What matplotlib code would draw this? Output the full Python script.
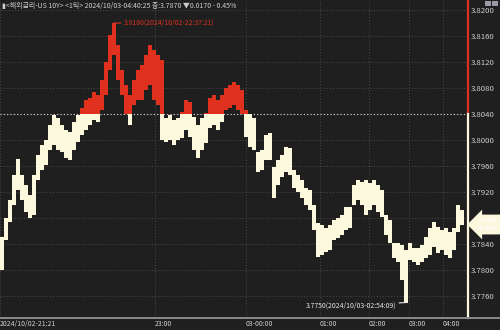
import matplotlib
matplotlib.use("Agg")
import matplotlib.pyplot as plt
from matplotlib.lines import Line2D
from matplotlib.patches import Rectangle
import numpy as np

# ---- data (per-bucket tick range, 1-tick chart of US 10Y yield) ----
highs = [3.7851, 3.7880, 3.7908, 3.7946, 3.7971, 3.7946, 3.7931, 3.7915, 3.7946, 3.7977,
         3.7992, 3.8000, 3.8023, 3.8038, 3.8034, 3.8023, 3.8015, 3.8012, 3.8028, 3.8038,
         3.8049, 3.8062, 3.8065, 3.8074, 3.8069, 3.8092, 3.8120, 3.8162, 3.8180, 3.8146,
         3.8108, 3.8085, 3.8069, 3.8092, 3.8108, 3.8115, 3.8131, 3.8146, 3.8138, 3.8131,
         3.8123, 3.8034, 3.8038, 3.8031, 3.8034, 3.8043, 3.8062, 3.8058, 3.8035, 3.8023,
         3.8034, 3.8042, 3.8065, 3.8069, 3.8062, 3.8069, 3.8080, 3.8085, 3.8089, 3.8085,
         3.8077, 3.8046, 3.8040, 3.8034, 3.7982, 3.7985, 3.8008, 3.8011, 3.7958, 3.7969,
         3.7977, 3.7989, 3.7988, 3.7954, 3.7946, 3.7938, 3.7926, 3.7923, 3.7900, 3.7872,
         3.7869, 3.7865, 3.7869, 3.7877, 3.7880, 3.7885, 3.7897, 3.7897, 3.7931, 3.7938,
         3.7935, 3.7938, 3.7934, 3.7938, 3.7931, 3.7923, 3.7885, 3.7877, 3.7842, 3.7842,
         3.7838, 3.7831, 3.7842, 3.7834, 3.7834, 3.7838, 3.7851, 3.7865, 3.7874, 3.7866,
         3.7862, 3.7865, 3.7858, 3.7865, 3.7900, 3.7892]
lows = [3.7800, 3.7846, 3.7874, 3.7900, 3.7923, 3.7908, 3.7889, 3.7880, 3.7885, 3.7938,
        3.7954, 3.7962, 3.7985, 3.7992, 3.7985, 3.7982, 3.7972, 3.7969, 3.7985, 3.7997,
        3.8008, 3.8015, 3.8023, 3.8031, 3.8028, 3.8046, 3.8069, 3.8108, 3.8131, 3.8092,
        3.8069, 3.8040, 3.8023, 3.8054, 3.8062, 3.8062, 3.8077, 3.8085, 3.8062, 3.8054,
        3.8000, 3.7997, 3.8000, 3.7992, 3.8000, 3.8003, 3.8015, 3.8005, 3.7985, 3.7972,
        3.7985, 3.7995, 3.8018, 3.8023, 3.8015, 3.8028, 3.8046, 3.8049, 3.8054, 3.8046,
        3.8040, 3.8005, 3.7989, 3.7985, 3.7951, 3.7954, 3.7969, 3.7969, 3.7911, 3.7931,
        3.7943, 3.7951, 3.7946, 3.7926, 3.7920, 3.7911, 3.7900, 3.7892, 3.7862, 3.7820,
        3.7823, 3.7828, 3.7831, 3.7846, 3.7849, 3.7854, 3.7862, 3.7865, 3.7900, 3.7908,
        3.7900, 3.7885, 3.7892, 3.7900, 3.7889, 3.7882, 3.7854, 3.7842, 3.7818, 3.7812,
        3.7785, 3.7750, 3.7815, 3.7812, 3.7808, 3.7812, 3.7818, 3.7823, 3.7835, 3.7826,
        3.7831, 3.7823, 3.7818, 3.7831, 3.7858, 3.7870]
prev_close = 3.8040
last_price = 3.7870
change = -0.0170
change_pct = -0.45
max_time = "2024/10/02-22:37:21"
min_time = "2024/10/03-02:54:09"
y_ticks = [3.7760, 3.7800, 3.7840, 3.7880, 3.7920, 3.7960, 3.8000, 3.8040, 3.8080, 3.8120, 3.8160, 3.8200]
hidden_tick = 3.7880  # covered by the last-price tag
x_tick_pos = [-0.5, 38.25, 61, 79.5, 91.75, 101.75, 110.25]
x_tick_labels = ["2024/10/02-21:21", "23:00", "03-00:00", "01:00", "02:00", "03:00", "04:00"]
header = "▮<해외금리-US 10Y> <1틱> 2024/10/03-04:40:25 종:3.7870 ▼0.0170 - 0.45%"

BG = "#1f1f1f"
CREAM = "#fbf8de"
RED = "#e0301e"
TXT = "#cfcfcf"
FONT = ["Liberation Sans Narrow", "Noto Sans CJK KR", "DejaVu Sans"]

plt.rcParams["font.family"] = FONT

fig = plt.figure(figsize=(5, 3.3), dpi=100, facecolor=BG)
ax = fig.add_axes([0, 12 / 330, 468 / 500, 318 / 330])
ax.set_facecolor(BG)

hi = np.array(highs)
lo = np.array(lows)
x = np.arange(len(hi))

# cream part (below previous close) and red part (above)
c_top = np.minimum(hi, prev_close)
c_h = np.clip(c_top - lo, 0, None)
r_bot = np.maximum(lo, prev_close)
r_h = np.clip(hi - r_bot, 0, None)
ax.bar(x, c_h, bottom=lo, width=1.0, color=CREAM, linewidth=0, zorder=3)
ax.bar(x, r_h, bottom=r_bot, width=1.0, color=RED, linewidth=0, zorder=3)

ax.set_xlim(-0.5, 116.5)
ax.set_ylim(3.77262, 3.82154)

# grid
ax.set_yticks(y_ticks)
ax.set_yticklabels(["" if abs(v - hidden_tick) < 1e-9 else f"{v:.4f}" for v in y_ticks])
ax.set_xticks(x_tick_pos)
ax.set_xticklabels(x_tick_labels)
ax.grid(True, color="#4a4a4a", linestyle=(0, (1, 2)), linewidth=0.7, zorder=1)
ax.axhline(prev_close, color="#d8d8d8", linestyle=(0, (1, 2)), linewidth=0.8, zorder=2)

ax.yaxis.tick_right()
ax.tick_params(axis="y", length=0, pad=2.2, labelsize=5.6, labelcolor=TXT)
ax.tick_params(axis="x", length=0, pad=1.5, labelsize=5.0, labelcolor=TXT)
for lab in ax.get_xticklabels():
    lab.set_horizontalalignment("left")
for s in ax.spines.values():
    s.set_visible(False)

# right axis line: red above previous close, cream below
yt = ax.get_yaxis_transform()
ylo, yhi = ax.get_ylim()
ax.plot([1, 1], [prev_close, yhi], transform=yt, color=RED, lw=1.6, clip_on=False, zorder=5)
ax.plot([1, 1], [ylo, prev_close], transform=yt, color=CREAM, lw=1.6, clip_on=False, zorder=5)

# bottom axis line
fig.add_artist(Line2D([0, 1], [12 / 330, 12 / 330], color="#8a8a8a", lw=1.4))

# max / min annotations
imax = int(np.argmax(hi))
imin = int(np.argmin(lo))
ax.annotate(f"{hi[imax]:.4f}({max_time})", xy=(imax, hi[imax]), xytext=(7, 0),
            textcoords="offset points", va="center", ha="left", fontsize=4.9, color=RED,
            arrowprops=dict(arrowstyle="-", color=RED, lw=0.8, shrinkA=0, shrinkB=0), zorder=6)
ax.annotate(f"{lo[imin]:.4f}({min_time})", xy=(imin, lo[imin]), xytext=(-7, -2),
            textcoords="offset points", va="center", ha="right", fontsize=4.9, color="#e8e8e8",
            arrowprops=dict(arrowstyle="-", color="#e8e8e8", lw=0.8, shrinkA=0, shrinkB=0), zorder=6)

# last price tag
ax.annotate(f"{last_price:.4f}\n{change_pct:.2f}%", xy=(1.0, last_price), xycoords=yt,
            xytext=(7, 0), textcoords="offset points", va="center", ha="left",
            fontsize=4.6, color="#ffffff", linespacing=1.0, annotation_clip=False,
            bbox=dict(boxstyle="larrow,pad=0.3", fc=CREAM, ec="none"), zorder=7)

# header
fig.text(0.004, 1 - 6 / 330, header, color=TXT, fontsize=5.0, va="center", ha="left", family=FONT)

# small window icons top right
fig.add_artist(Rectangle((485 / 500, 1 - 6 / 330), 6 / 500, 5 / 330, fc="#9a9aa8", ec="none"))
fig.add_artist(Rectangle((492 / 500, 1 - 6 / 330), 6 / 500, 5 / 330, fc="#9a9aa8", ec="none"))

fig.savefig("out.png", dpi=100, facecolor=BG)
